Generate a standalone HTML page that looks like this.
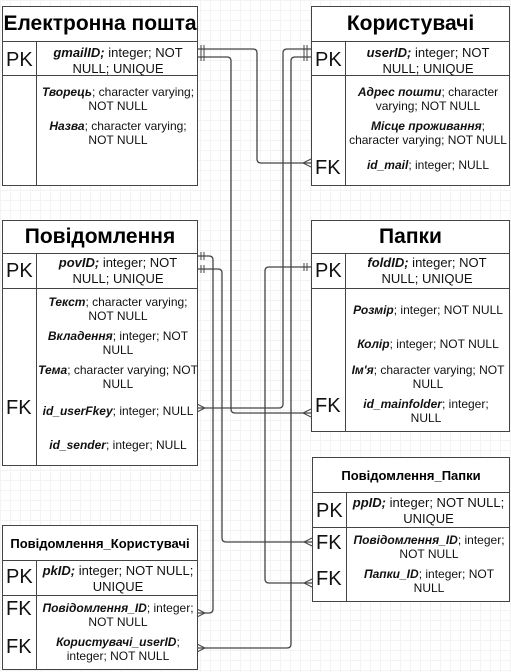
<!DOCTYPE html>
<html><head><meta charset="utf-8"><style>
body{margin:0;width:511px;height:672px;position:relative;overflow:hidden;font-family:"Liberation Sans",sans-serif;
background-color:#fff;background-image:linear-gradient(#f3f3f3 1px,transparent 1px),linear-gradient(90deg,#f3f3f3 1px,transparent 1px);background-size:10px 10px}
.t{position:absolute;border:1px solid #444;background:#fff;box-sizing:border-box}
.h{position:absolute;left:0;right:0;top:0;border-bottom:1px solid #444;display:flex;align-items:center;justify-content:center;font-weight:bold;color:#000}
.r{position:absolute;left:0;right:0;border-bottom:1px solid #444}
.v{position:absolute;top:0;bottom:0;width:0;border-left:1px solid #444}
.k{position:absolute;font-size:20px;color:#111;left:3px}
.x{position:absolute;font-size:12px;color:#111;text-align:center;line-height:14px}
.x b{font-style:italic}
</style></head><body>
<svg width="511" height="672" style="position:absolute;left:0;top:0" fill="none" stroke="#444" stroke-width="1.3">
<path d="M197 49 H253 Q257 49 257 53 V159 Q257 163 261 163 H311"/>
<path d="M197 57 H227 Q231 57 231 61 V409 Q231 413 235 413 H311"/>
<path d="M311 49 H287 Q283 49 283 53 V404 Q283 408 279 408 H197"/>
<path d="M311 57 H295 Q291 57 291 61 V644 Q291 648 287 648 H197"/>
<path d="M197 256 H209 Q213 256 213 260 V609 Q213 613 209 613 H197"/>
<path d="M197 269 H218 Q222 269 222 273 V538 Q222 542 226 542 H312"/>
<path d="M311 267 H269 Q265 267 265 271 V579 Q265 583 269 583 H312"/>
<g stroke-width="1">
<path d="M201 45v8M204 45v8M201 53v8M204 53v8"/>
<path d="M307 45v8M304 45v8M307 53v8M304 53v8"/>
<path d="M201 252v8M204 252v8M201 265v8M204 265v8"/>
<path d="M307 263v8M304 263v8"/>
<path d="M311 159 L303 163 L311 167M311 409 L303 413 L311 417M312 538 L304 542 L312 546M312 579 L304 583 L312 587"/>
<path d="M197 404 L205 408 L197 412M197 644 L205 648 L197 652M197 609 L205 613 L197 617"/>
</g>
</svg>

<div class="t" style="left:2px;top:6px;width:196px;height:180px">
<div class="h" style="height:34px;font-size:21px">Електронна пошта</div>
<div class="r" style="top:34px;height:34px"></div><div class="v" style="left:33px;top:34px"></div>
<div class="k" style="top:42px">PK</div>
<div class="x" style="left:36px;width:158px;top:38px;font-size:13px;line-height:16px"><b>gmailID;</b> integer; NOT NULL; UNIQUE</div>
<div class="x" style="left:36px;width:158px;top:78px"><b>Творець</b>; character varying; NOT NULL</div>
<div class="x" style="left:36px;width:158px;top:112px"><b>Назва</b>; character varying; NOT NULL</div>
</div>

<div class="t" style="left:311px;top:6px;width:199px;height:180px">
<div class="h" style="height:34px;font-size:21px">Користувачі</div>
<div class="r" style="top:34px;height:34px"></div><div class="v" style="left:33px;top:34px"></div>
<div class="k" style="top:42px">PK</div>
<div class="k" style="top:150px">FK</div>
<div class="x" style="left:36px;width:160px;top:38px;font-size:13px;line-height:16px"><b>userID;</b> integer; NOT NULL; UNIQUE</div>
<div class="x" style="left:36px;width:160px;top:78px"><b>Адрес пошти</b>; character varying; NOT NULL</div>
<div class="x" style="left:34px;width:164px;top:112px"><b>Місце проживання</b>; character varying; NOT NULL</div>
<div class="x" style="left:36px;width:160px;top:151px"><b>id_mail</b>; integer; NULL</div>
</div>

<div class="t" style="left:2px;top:220px;width:196px;height:246px">
<div class="h" style="height:32px;font-size:21px">Повідомлення</div>
<div class="r" style="top:32px;height:35px"></div><div class="v" style="left:33px;top:32px"></div>
<div class="k" style="top:39px">PK</div>
<div class="k" style="top:176px">FK</div>
<div class="x" style="left:36px;width:158px;top:34px;font-size:13px;line-height:16px"><b>povID;</b> integer; NOT NULL; UNIQUE</div>
<div class="x" style="left:36px;width:158px;top:74px"><b>Текст</b>; character varying; NOT NULL</div>
<div class="x" style="left:36px;width:158px;top:108px"><b>Вкладення</b>; integer; NOT NULL</div>
<div class="x" style="left:34px;width:162px;top:142px"><b>Тема</b>; character varying; NOT NULL</div>
<div class="x" style="left:36px;width:158px;top:183px"><b>id_userFkey</b>; integer; NULL</div>
<div class="x" style="left:36px;width:158px;top:217px"><b>id_sender</b>; integer; NULL</div>
</div>

<div class="t" style="left:311px;top:220px;width:199px;height:212px">
<div class="h" style="height:32px;font-size:21px">Папки</div>
<div class="r" style="top:32px;height:35px"></div><div class="v" style="left:33px;top:32px"></div>
<div class="k" style="top:39px">PK</div>
<div class="k" style="top:174px">FK</div>
<div class="x" style="left:42px;width:146px;top:34px;font-size:13px;line-height:16px"><b>foldID;</b> integer; NOT NULL; UNIQUE</div>
<div class="x" style="left:36px;width:160px;top:82px"><b>Розмір</b>; integer; NOT NULL</div>
<div class="x" style="left:36px;width:160px;top:116px"><b>Колір</b>; integer; NOT NULL</div>
<div class="x" style="left:36px;width:160px;top:142px"><b>Ім'я</b>; character varying; NOT NULL</div>
<div class="x" style="left:44px;width:140px;top:176px"><b>id_mainfolder</b>; integer; NULL</div>
</div>

<div class="t" style="left:312px;top:457px;width:198px;height:145px">
<div class="h" style="height:34px;font-size:13px">Повідомлення_Папки</div>
<div class="r" style="top:34px;height:35px"></div><div class="v" style="left:33px;top:34px"></div>
<div class="k" style="top:42px">PK</div>
<div class="k" style="top:74px">FK</div>
<div class="k" style="top:110px">FK</div>
<div class="x" style="left:34px;width:163px;top:37px;font-size:13px;line-height:16px"><b>ppID;</b> integer; NOT NULL; UNIQUE</div>
<div class="x" style="left:36px;width:160px;top:75px"><b>Повідомлення_ID</b>; integer; NOT NULL</div>
<div class="x" style="left:36px;width:160px;top:109px"><b>Папки_ID</b>; integer; NOT NULL</div>
</div>

<div class="t" style="left:2px;top:525px;width:196px;height:145px">
<div class="h" style="height:34px;font-size:13px">Повідомлення_Користувачі</div>
<div class="r" style="top:34px;height:35px"></div><div class="v" style="left:33px;top:34px"></div>
<div class="k" style="top:40px">PK</div>
<div class="k" style="top:72px">FK</div>
<div class="k" style="top:110px">FK</div>
<div class="x" style="left:34px;width:162px;top:37px;font-size:13px;line-height:16px"><b>pkID;</b> integer; NOT NULL; UNIQUE</div>
<div class="x" style="left:36px;width:158px;top:75px"><b>Повідомлення_ID</b>; integer; NOT NULL</div>
<div class="x" style="left:36px;width:158px;top:109px"><b>Користувачі_userID</b>; integer; NOT NULL</div>
</div>
</body></html>
